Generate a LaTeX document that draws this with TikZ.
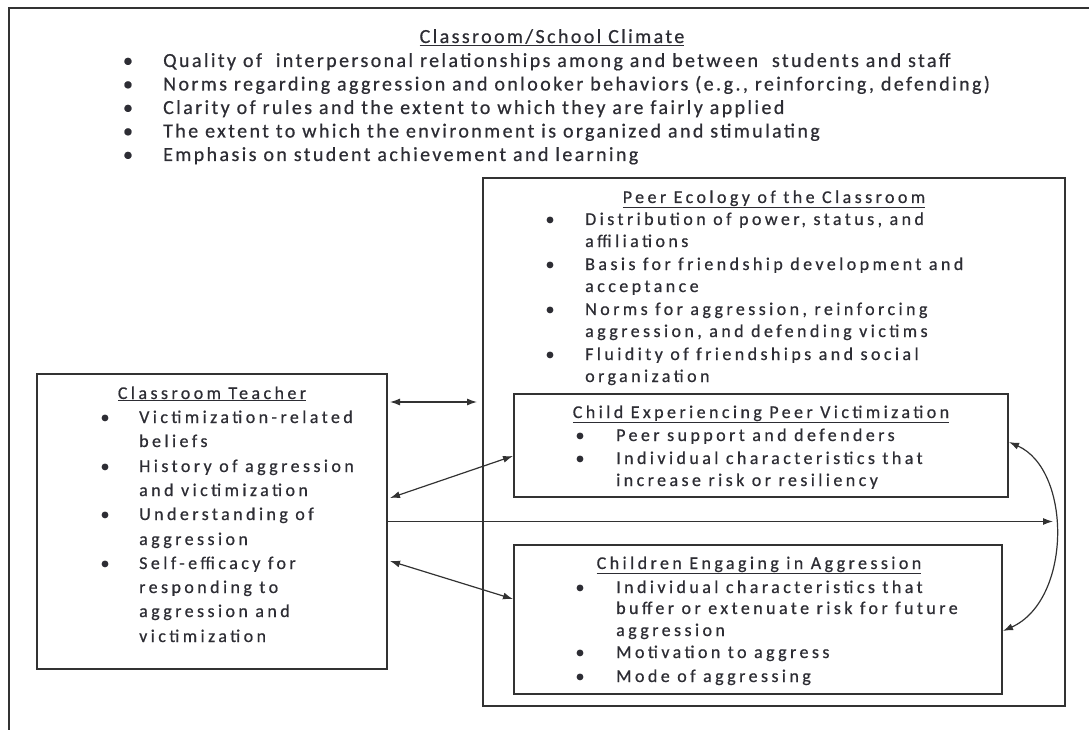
\documentclass[tikz,border=0pt]{standalone}
\usepackage{fontspec}
\setmainfont{Carlito}
\newfontfamily\climatefont{Carlito}[LetterSpace=12,FakeBold=0.6]
\newfontfamily\boxfont{Carlito}[LetterSpace=19,FakeBold=0.6]
\usetikzlibrary{arrows.meta,calc}
\definecolor{ink}{RGB}{45,45,52}
\definecolor{rule}{RGB}{50,50,50}

\begin{document}
\begin{tikzpicture}[x=1pt,y=-1pt,
  frame/.style={draw=rule,line width=1.5pt,inner sep=0pt,outer sep=0pt,rectangle},
  toptxt/.style={anchor=base west,inner sep=0pt,text=ink,font=\climatefont\fontsize{20}{23}\selectfont},
  toptitle/.style={toptxt,anchor=base},
  topdot/.style={toptxt,anchor=base},
  boxtxt/.style={anchor=base west,inner sep=0pt,text=ink,font=\boxfont\fontsize{18}{22}\selectfont},
  boxtitle/.style={boxtxt,anchor=base},
  boxdot/.style={boxtxt,anchor=base},
  link/.style={draw=rule,line width=1.2pt},
  twoway/.style={link,{Latex[length=10pt,width=7pt]}-{Latex[length=10pt,width=7pt]}},
  oneway/.style={link,-{Latex[length=10pt,width=7pt]}}
]
\useasboundingbox (0,0) rectangle (1089,730);

% outer frame of the school climate
\draw[rule,line width=1.5pt] (1089,8) -- (9,8) -- (9,730);

% ---- classroom / school climate ----
\node[toptitle] (climT) at (552,43) {\underline{Classroom/School Climate}};
\node[topdot] (climB1) at (128,67)   {\textbullet};
\node[topdot] (climB2) at (128,90.5) {\textbullet};
\node[topdot] (climB3) at (128,114)  {\textbullet};
\node[topdot] (climB4) at (128,137.5){\textbullet};
\node[topdot] (climB5) at (128,161)  {\textbullet};
\node[toptxt] (clim1) at (163,67)   {Quality of~ interpersonal relationships among and between~ students and staff};
\node[toptxt] (clim2) at (163,90.5) {Norms regarding aggression and onlooker behaviors (e.g., reinforcing, defending)};
\node[toptxt] (clim3) at (163,114)  {Clarity of rules and the extent to which they are fairly applied};
\node[toptxt] (clim4) at (163,137.5){The extent to which the environment is organized and stimulating};
\node[toptxt] (clim5) at (163,161)  {Emphasis on student achievement and learning};

% ---- boxes ----
\node[frame,minimum width=350pt,minimum height=295pt] (teacher) at (212,521.5) {};
\node[frame,minimum width=582pt,minimum height=528pt] (peer) at (774,442) {};
\node[frame,minimum width=494pt,minimum height=103pt] (victim) at (761,445.5) {};
\node[frame,minimum width=488pt,minimum height=149pt] (aggr) at (758,619.5) {};

% ---- classroom teacher ----
\node[boxtitle] (teachT) at (212,399) {\underline{Classroom Teacher}};
\node[boxdot] (teachB1) at (105,423) {\textbullet};
\node[boxdot] (teachB2) at (105,472) {\textbullet};
\node[boxdot] (teachB3) at (105,520) {\textbullet};
\node[boxdot] (teachB4) at (105,569) {\textbullet};
\node[boxtxt] (teach1)  at (139,423) {Victimization-related};
\node[boxtxt] (teach2)  at (139,447) {beliefs};
\node[boxtxt] (teach3)  at (139,472) {History of aggression};
\node[boxtxt] (teach4)  at (139,496) {and victimization};
\node[boxtxt] (teach5)  at (139,520) {Understanding of};
\node[boxtxt] (teach6)  at (139,545) {aggression};
\node[boxtxt] (teach7)  at (139,569) {Self-efficacy for};
\node[boxtxt] (teach8)  at (139,593) {responding to};
\node[boxtxt] (teach9)  at (139,617) {aggression and};
\node[boxtxt] (teach10) at (139,642) {victimization};

% ---- peer ecology ----
\node[boxtitle] (peerT) at (774,203) {\underline{Peer Ecology of the Classroom}};
\node[boxdot] (peerB1) at (550,225) {\textbullet};
\node[boxdot] (peerB2) at (550,270) {\textbullet};
\node[boxdot] (peerB3) at (550,315) {\textbullet};
\node[boxdot] (peerB4) at (550,360) {\textbullet};
\node[boxtxt] (peer1) at (585,225) {Distribution of power, status, and};
\node[boxtxt] (peer2) at (585,247) {affiliations};
\node[boxtxt] (peer3) at (585,270) {Basis for friendship development and};
\node[boxtxt] (peer4) at (585,292) {acceptance};
\node[boxtxt] (peer5) at (585,315) {Norms for aggression, reinforcing};
\node[boxtxt] (peer6) at (585,337) {aggression, and defending victims};
\node[boxtxt] (peer7) at (585,360) {Fluidity of friendships and social};
\node[boxtxt] (peer8) at (585,382) {organization};

% ---- child experiencing victimization ----
\node[boxtitle] (victT) at (761,418) {\underline{Child Experiencing Peer Victimization}};
\node[boxdot] (victB1) at (580,441) {\textbullet};
\node[boxdot] (victB2) at (580,464) {\textbullet};
\node[boxtxt] (vict1) at (616,441) {Peer support and defenders};
\node[boxtxt] (vict2) at (616,464) {Individual characteristics that};
\node[boxtxt] (vict3) at (616,486) {increase risk or resiliency};

% ---- children engaging in aggression ----
\node[boxtitle] (aggrT) at (759,569) {\underline{Children Engaging in Aggression}};
\node[boxdot] (aggrB1) at (580,593) {\textbullet};
\node[boxdot] (aggrB2) at (580,658) {\textbullet};
\node[boxdot] (aggrB3) at (580,682) {\textbullet};
\node[boxtxt] (aggr1) at (616,593) {Individual characteristics that};
\node[boxtxt] (aggr2) at (616,614) {buffer or extenuate risk for future};
\node[boxtxt] (aggr3) at (616,636) {aggression};
\node[boxtxt] (aggr4) at (616,658) {Motivation to aggress};
\node[boxtxt] (aggr5) at (616,682) {Mode of aggressing};

% ---- connectors ----
\draw[twoway] ([shift={(3,28)}]teacher.north east) -- ([shift={(-6,224)}]peer.north west);
\draw[twoway] ([shift={(3,124)}]teacher.north east) -- ([shift={(-1,62)}]victim.north west);
\draw[twoway] ([shift={(3,187)}]teacher.north east) -- ([shift={(-1,54)}]aggr.north west);
\coordinate (reach) at (1053,521.5);
\draw[oneway] (teacher.east) -- (reach);
\draw[twoway] ([shift={(1,48)}]victim.north east) .. controls (1072,470) and (1072,600) .. ([shift={(1,86)}]aggr.north east);
\end{tikzpicture}
\end{document}
